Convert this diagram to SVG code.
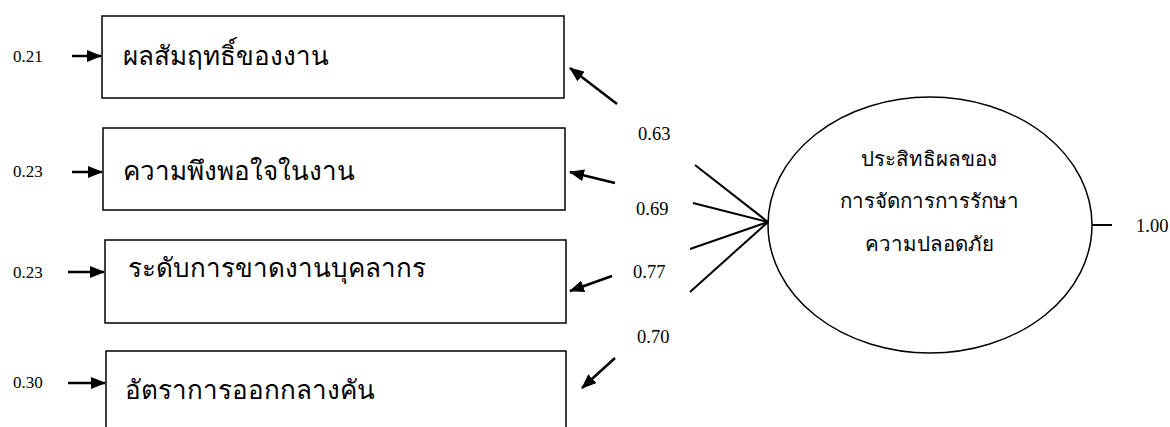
<svg xmlns="http://www.w3.org/2000/svg" width="1170" height="427" viewBox="0 0 1170 427">
<style>
.box{fill:#fff;stroke:#000;stroke-width:1.5}
.ln{stroke:#000;stroke-width:2;fill:none}
.ar{stroke:#000;stroke-width:2.5;fill:none}
.num{font-family:"Liberation Serif",serif;font-size:17px;fill:#000}
.numr{font-family:"Liberation Serif",serif;font-size:18.5px;fill:#000}
.th{font-family:"Liberation Serif","Noto Sans CJK SC",serif;font-size:26px;fill:#000}
.ts{font-family:"Liberation Serif","Noto Sans CJK SC",serif;font-size:20.5px;fill:#000;text-anchor:middle}
</style>
<defs>
<marker id="ah" viewBox="0 0 15 12" refX="14" refY="6" markerWidth="15" markerHeight="12" orient="auto" markerUnits="userSpaceOnUse">
<path d="M0,0 L15,6 L0,12 z" fill="#000"/>
</marker>
</defs>
<rect width="1170" height="427" fill="#fff"/>
<g id="n1"><rect class="box" x="102" y="16" width="462" height="82"/><text class="th" x="123" y="65">ผลสัมฤทธิ์ของงาน</text></g>
<g id="n2"><rect class="box" x="103" y="128" width="462" height="82"/><text class="th" x="123" y="180">ความพึงพอใจในงาน</text></g>
<g id="n3"><rect class="box" x="105" y="240" width="461" height="83"/><text class="th" x="128" y="277">ระดับการขาดงานบุคลากร</text></g>
<g id="n4"><rect class="box" x="106" y="351" width="460" height="90"/><text class="th" x="125" y="399">อัตราการออกกลางคัน</text></g>
<g id="n5"><ellipse class="box" cx="930" cy="225" rx="162" ry="128"/>
<text class="ts" x="929" y="166">ประสิทธิผลของ</text>
<text class="ts" x="929" y="208">การจัดการการรักษา</text>
<text class="ts" x="929" y="251">ความปลอดภัย</text></g>
<g id="connectors">
<line class="ar" x1="72" y1="56" x2="101" y2="56" marker-end="url(#ah)"/>
<line class="ar" x1="72" y1="172" x2="102" y2="172" marker-end="url(#ah)"/>
<line class="ar" x1="68" y1="272" x2="104" y2="272" marker-end="url(#ah)"/>
<line class="ar" x1="68" y1="383" x2="105" y2="383" marker-end="url(#ah)"/>
<line class="ar" x1="617" y1="104" x2="570" y2="68" marker-end="url(#ah)"/>
<line class="ar" x1="615" y1="183" x2="570" y2="172" marker-end="url(#ah)"/>
<line class="ar" x1="612" y1="276" x2="570" y2="291" marker-end="url(#ah)"/>
<line class="ar" x1="615" y1="358" x2="582" y2="388" marker-end="url(#ah)"/>
<line class="ln" x1="768" y1="222" x2="695" y2="165"/>
<line class="ln" x1="768" y1="222" x2="693" y2="203"/>
<line class="ln" x1="768" y1="222" x2="690" y2="249"/>
<line class="ln" x1="768" y1="222" x2="690" y2="292"/>
<line class="ln" x1="1092" y1="225" x2="1112" y2="225"/>
</g>
<g id="labels">
<text class="num" x="13" y="62">0.21</text>
<text class="num" x="13" y="177">0.23</text>
<text class="num" x="13" y="278">0.23</text>
<text class="num" x="13" y="388">0.30</text>
<text class="numr" x="638" y="140">0.63</text>
<text class="numr" x="636" y="215">0.69</text>
<text class="numr" x="633" y="278">0.77</text>
<text class="numr" x="637" y="343">0.70</text>
<text class="numr" x="1136" y="232">1.00</text>
</g>
</svg>
